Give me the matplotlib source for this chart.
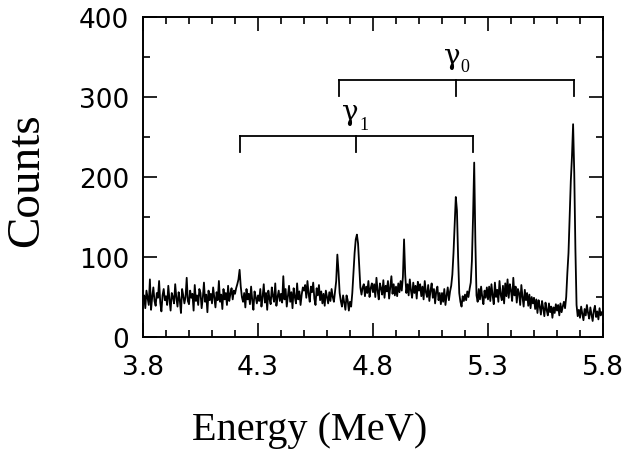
import numpy as np
import matplotlib
matplotlib.use("Agg")
import matplotlib.pyplot as plt
from matplotlib.ticker import MultipleLocator

# Spectrum: counts per 5 keV channel from 3.80 to 5.80 MeV
e_start, e_step = 3.80, 0.005
counts = [
    # 3.80
    46, 52, 36, 58, 49, 40, 72, 34, 50, 62, 45, 39, 55, 49, 70, 43, 32, 52, 60, 46,
    # 3.90
    51, 40, 64, 47, 33, 55, 50, 42, 66, 49, 38, 56, 46, 30, 60, 52, 42, 50, 74, 45,
    # 4.00
    41, 58, 49, 54, 33, 65, 45, 52, 40, 60, 55, 36, 49, 68, 44, 53, 31, 58, 46, 54,
    # 4.10
    42, 62, 50, 37, 56, 46, 70, 44, 53, 35, 60, 47, 55, 40, 64, 45, 54, 61, 47, 58,
    # 4.20
    54, 61, 66, 72, 84, 63, 50, 44, 55, 37, 60, 47, 54, 41, 63, 46, 34, 57, 50, 42,
    # 4.30
    52, 45, 60, 38, 50, 66, 43, 55, 34, 58, 48, 41, 62, 51, 44, 67, 39, 50, 58, 45,
    # 4.40
    54, 43, 76, 47, 60, 38, 51, 64, 44, 56, 36, 61, 50, 42, 67, 47, 57, 40, 53, 62,
    # 4.50
    58, 65, 49, 70, 54, 44, 63, 56, 68, 48, 40, 61, 52, 65, 46, 57, 42, 54, 39, 58,
    # 4.60
    50, 42, 56, 45, 60, 50, 44, 57, 70, 103, 82, 55, 45, 38, 52, 43, 34, 52, 46, 33,
    # 4.70
    44, 38, 55, 80, 105, 122, 128, 117, 90, 62, 53, 62, 66, 51, 63, 55, 70, 50, 61, 67,
    # 4.80
    56, 66, 50, 74, 58, 47, 67, 61, 53, 71, 49, 64, 57, 70, 48, 62, 76, 54, 66, 52,
    # 4.90
    63, 51, 67, 56, 70, 58, 75, 122, 78, 55, 66, 52, 72, 58, 49, 68, 55, 64, 48, 69,
    # 5.00
    58, 66, 51, 63, 47, 70, 56, 50, 65, 45, 58, 67, 49, 60, 42, 57, 63, 46, 55, 41,
    # 5.10
    55, 44, 60, 40, 52, 62, 46, 57, 64, 78, 105, 140, 175, 158, 100, 55, 44, 38, 51, 45,
    # 5.20
    53, 46, 57, 50, 60, 68, 95, 150, 218, 120, 52, 44, 60, 47, 63, 50, 41, 58, 49, 62,
    # 5.30
    47, 63, 45, 66, 52, 41, 68, 50, 59, 44, 70, 53, 46, 64, 42, 67, 51, 72, 49, 66,
    # 5.40
    58, 45, 74, 52, 63, 43, 60, 55, 40, 65, 50, 38, 59, 46, 55, 39, 53, 36, 50, 42,
    # 5.50
    49, 35, 47, 30, 46, 38, 28, 45, 36, 26, 43, 34, 27, 42, 31, 38, 24, 37, 30, 41,
    # 5.60
    33, 40, 27, 42, 31, 38, 44, 36, 50, 80, 105, 150, 195, 225, 266, 205, 110, 40, 26, 34,
    # 5.70
    24, 38, 29, 21, 35, 27, 40, 30, 23, 37, 28, 20, 33, 39, 25, 32, 22, 36, 27, 31,
    # 5.80
    32,
]
energy = e_start + e_step * np.arange(len(counts))

# Line markers for gamma0 and gamma1 (full energy, single escape, double escape)
gamma0_energies = [4.652, 5.163, 5.674]
gamma1_energies = [4.222, 4.724, 5.235]
gamma0_level, gamma0_drop = 321, 301
gamma1_level, gamma1_drop = 251, 231
gamma_labels = ["\u03b3", "\u03b3"]
gamma_subs = ["0", "1"]
gamma_label_pos = [(5.143, 352), (4.700, 282)]
gamma_sub_pos = [(5.198, 338), (4.759, 266)]

x_ticks = [3.8, 4.3, 4.8, 5.3, 5.8]
x_ticklabels = ["3.8", "4.3", "4.8", "5.3", "5.8"]
y_ticks = [0, 100, 200, 300, 400]

W, H, DPI = 624, 456, 100
fig = plt.figure(figsize=(W / DPI, H / DPI), dpi=DPI)
ax = fig.add_axes([143 / W, 1 - 338 / H, (603 - 143) / W, (338 - 18) / H])

ax.plot(energy, counts, color="black", lw=1.3)

def bracket(xs, level, drop):
    ax.plot([xs[0], xs[-1]], [level, level], color="black", lw=1.3)
    for x in xs:
        ax.plot([x, x], [level, drop], color="black", lw=1.3)

bracket(gamma0_energies, gamma0_level, gamma0_drop)
bracket(gamma1_energies, gamma1_level, gamma1_drop)

for lab, pos in zip(gamma_labels, gamma_label_pos):
    ax.text(*pos, lab, fontsize=20, ha="center", va="center", family="DejaVu Serif")
for lab, pos in zip(gamma_subs, gamma_sub_pos):
    ax.text(*pos, lab, fontsize=13, ha="center", va="center", family="Liberation Serif")

ax.set_xlim(3.8, 5.8)
ax.set_ylim(0, 400)
ax.set_xticks(x_ticks)
ax.set_xticklabels(x_ticklabels)
ax.set_yticks(y_ticks)
ax.xaxis.set_minor_locator(MultipleLocator(0.1))
ax.yaxis.set_minor_locator(MultipleLocator(50))
ax.tick_params(which="both", direction="in", top=True, right=True, width=1.2)
ax.tick_params(which="major", length=10, labelsize=19, pad=12)
ax.tick_params(which="minor", length=5)
ax.tick_params(axis="y", which="major", pad=10)
for lab in ax.get_xticklabels() + ax.get_yticklabels():
    lab.set_fontfamily("DejaVu Sans")
for s in ax.spines.values():
    s.set_linewidth(1.4)

fig.text(27 / W, 1 - 180 / H, "Counts", rotation=90, ha="center", va="center",
         fontsize=34, family="Liberation Serif")
fig.text(310 / W, 1 - 440 / H, "Energy (MeV)", ha="center", va="baseline",
         fontsize=29, family="Liberation Serif")

fig.savefig("out.png", dpi=DPI)
